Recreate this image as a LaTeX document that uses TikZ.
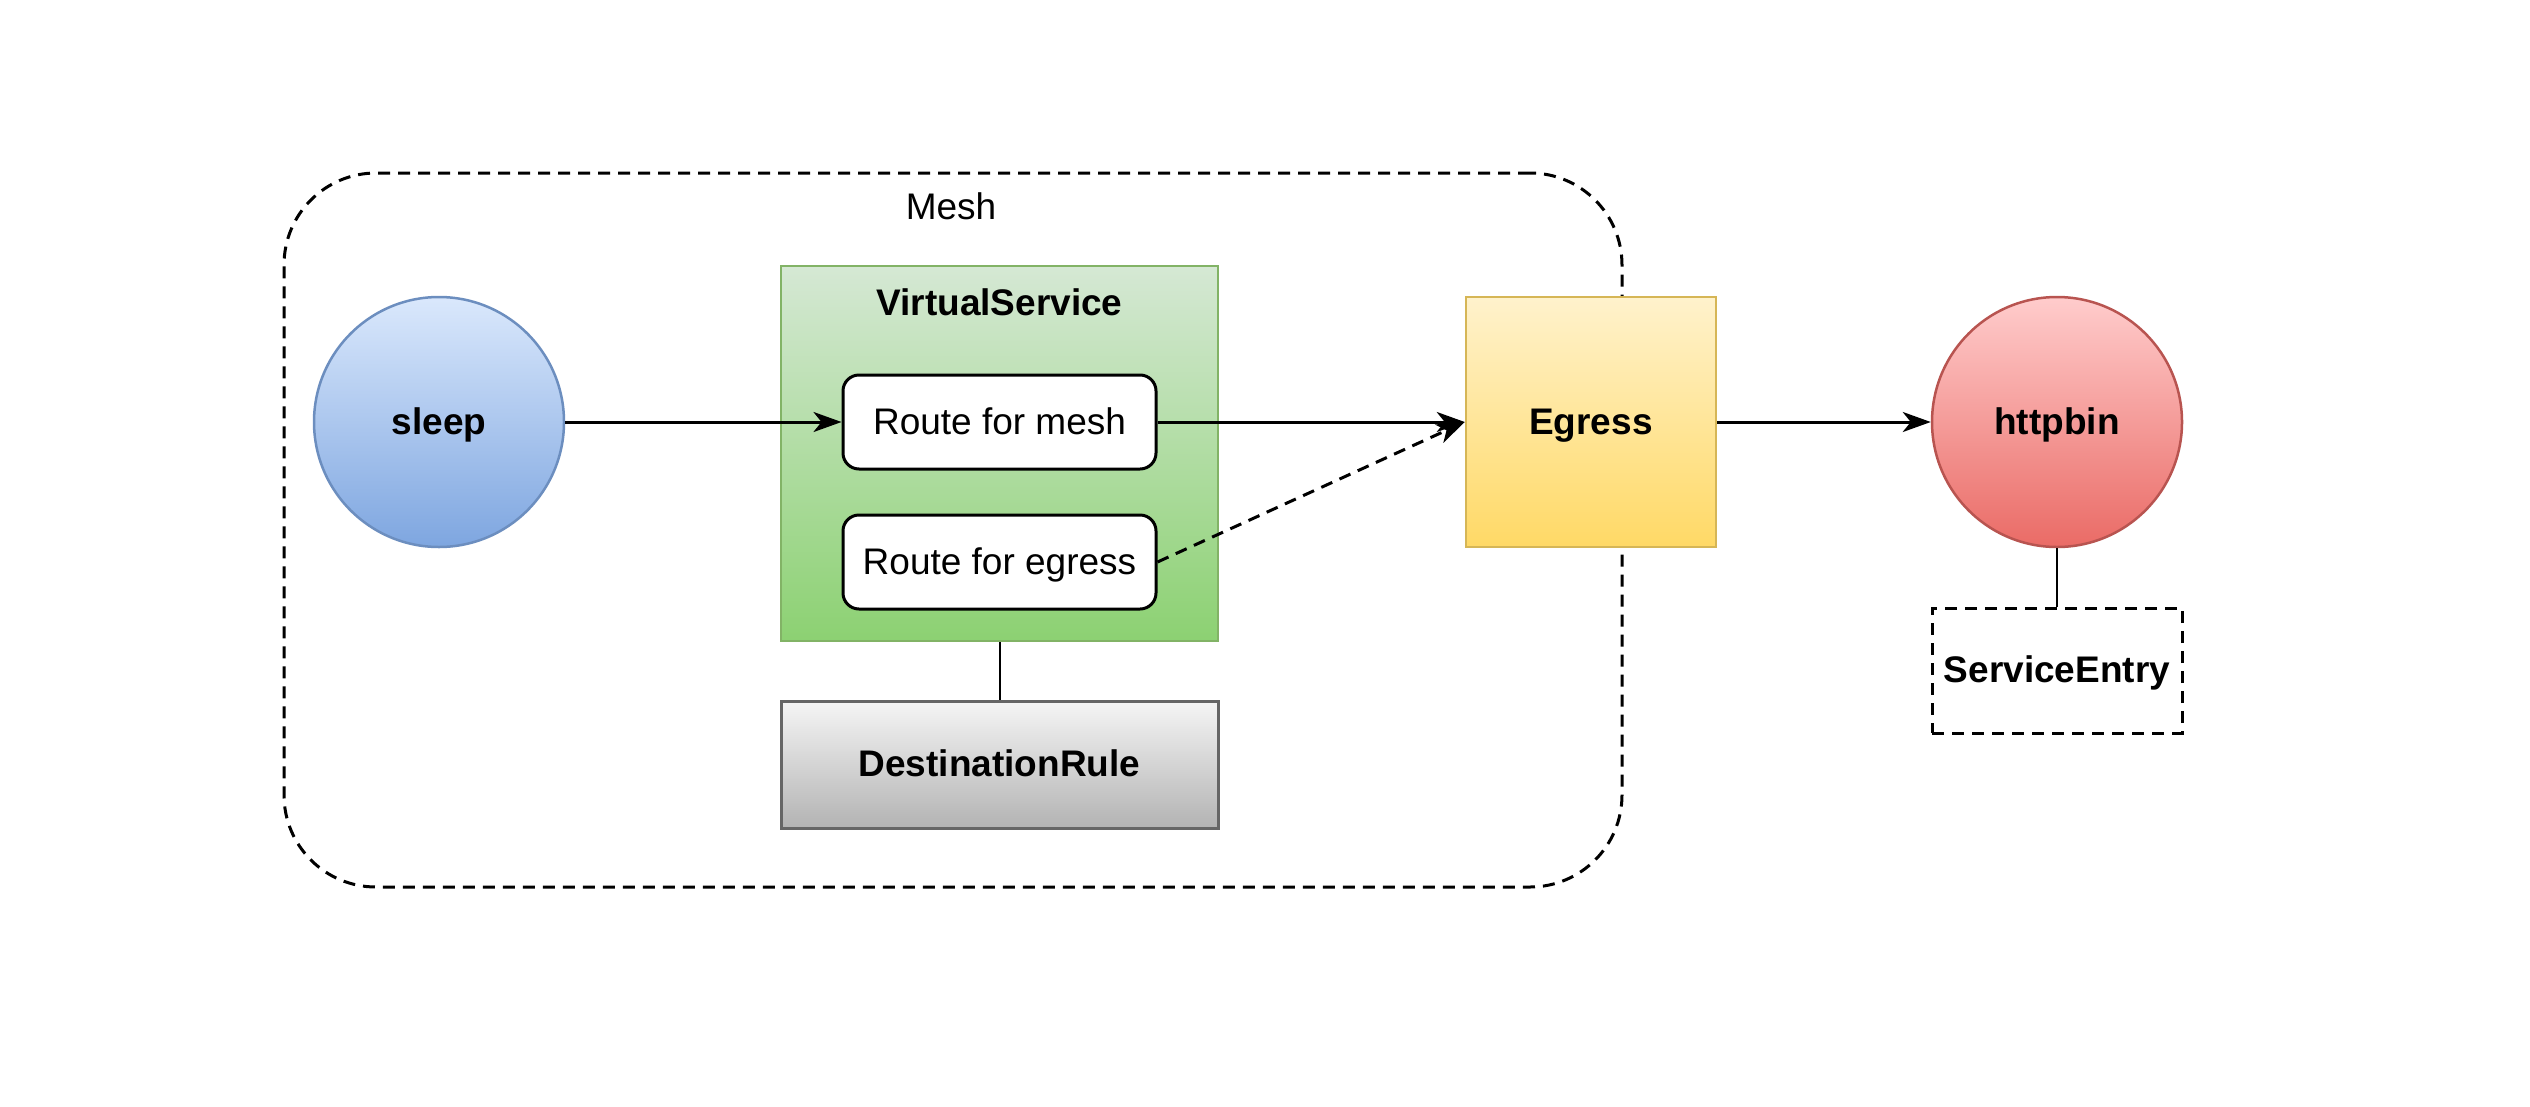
\documentclass[tikz,border=0pt]{standalone}
\usepackage{fontspec}
\setmainfont{Liberation Sans}
\usetikzlibrary{arrows.meta}
\definecolor{sleepT}{HTML}{DAE8FC}\definecolor{sleepB}{HTML}{7EA6E0}\definecolor{sleepD}{HTML}{6C8EBF}
\definecolor{vsT}{HTML}{D5E8D4}\definecolor{vsB}{HTML}{8CD172}\definecolor{vsD}{HTML}{82B366}
\definecolor{egT}{HTML}{FFF2CC}\definecolor{egB}{HTML}{FFD966}\definecolor{egD}{HTML}{D6B656}
\definecolor{hbT}{HTML}{FFCCCC}\definecolor{hbB}{HTML}{EA6B66}\definecolor{hbD}{HTML}{B85450}
\definecolor{drT}{HTML}{F5F5F5}\definecolor{drB}{HTML}{B3B3B3}\definecolor{drD}{HTML}{666666}
\tikzset{
  lbl/.style={font=\fontsize{37}{44}\selectfont, text height=25pt, text depth=1pt, inner sep=0pt},
  blbl/.style={lbl, font=\fontsize{37}{44}\selectfont\bfseries},
  circ/.style={circle, minimum size=250pt, inner sep=0pt, line width=2.5pt, blbl},
  routebox/.style={rectangle, rounded corners=16pt, draw=black, fill=white, line width=3pt,
    minimum width=313pt, minimum height=94pt, lbl},
  conn/.style={line width=3pt, -{Stealth[length=28pt,width=20pt,inset=8pt]}},
  link/.style={line width=2pt},
  dashpat/.style={dash pattern=on 12pt off 8pt}
}
\begin{document}
\begin{tikzpicture}[x=1pt,y=-1pt]
\useasboundingbox (0,0) rectangle (2530,1106);
% mesh container
\node[draw=black, line width=3pt, dashpat, rounded corners=92pt, minimum width=1338pt, minimum height=714pt, inner sep=0pt] (mesh) at (953,530) {};
\node[lbl] (meshlbl) at (951,207) {Mesh};
% sleep
\node[circ, top color=sleepT, bottom color=sleepB, draw=sleepD] (sleep) at (439,422) {sleep};
% virtual service
\node[rectangle, top color=vsT, bottom color=vsB, draw=vsD, line width=2.5pt, minimum width=437pt, minimum height=375pt, inner sep=0pt] (vs) at (999.5,453.5) {};
\node[blbl] (vslbl) at (999.5,303) {VirtualService};
\node[routebox] (rmesh) at (999.5,422) {Route for mesh};
\node[routebox] (regress) at (999.5,562) {Route for egress};
% destination rule
\node[rectangle, top color=drT, bottom color=drB, draw=drD, line width=3pt, minimum width=437pt, minimum height=127pt, blbl] (dr) at (999.5,764.5) {DestinationRule};
% egress
\node[rectangle, top color=egT, bottom color=egB, draw=egD, line width=2.5pt, minimum width=250pt, minimum height=250pt, blbl] (egress) at (1591,422) {Egress};
% httpbin
\node[circ, top color=hbT, bottom color=hbB, draw=hbD] (httpbin) at (2057,422) {httpbin};
% service entry
\node[rectangle, draw=black, line width=3pt, dashpat, minimum width=250pt, minimum height=125pt, blbl] (se) at (2057,670.5) {ServiceEntry};
% connectors
\draw[conn] (sleep.east) -- (rmesh.west);
\draw[conn] (rmesh.east) -- (egress.west);
\draw[conn, dashpat] (regress.east) -- (egress.west);
\draw[conn] (egress.east) -- (httpbin.west);
\draw[link] (vs.south) -- (dr.north);
\draw[link] (httpbin.south) -- (se.north);
\end{tikzpicture}
\end{document}
